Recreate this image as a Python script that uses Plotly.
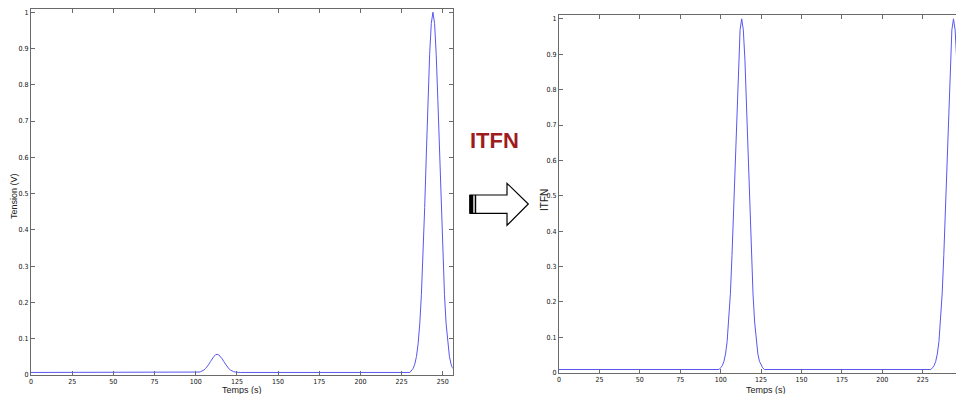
import plotly.graph_objects as go

# ---------------- data ----------------
time_left = [0, 99,
             100, 101, 102, 103, 104, 105, 106, 107, 108, 109, 110, 111, 112, 113,
             114, 115, 116, 117, 118, 119, 120, 121, 122, 123, 124, 125, 126,
             127, 230,
             231, 232, 233, 234, 235, 236, 237, 238, 239, 240, 241, 242, 243, 244,
             245, 246, 247, 248, 249, 250, 251, 252, 253, 254, 255, 256]
tension_left = [0.007, 0.007,
                0.0072, 0.0076, 0.0081, 0.0092, 0.0110, 0.0138, 0.0178, 0.0232, 0.0299, 0.0373, 0.0448, 0.0511, 0.0555, 0.0570,
                0.0555, 0.0511, 0.0448, 0.0373, 0.0299, 0.0232, 0.0178, 0.0138, 0.0110, 0.0092, 0.0081, 0.0076, 0.0072,
                0.007, 0.007,
                0.012, 0.018, 0.030, 0.051, 0.086, 0.141, 0.222, 0.329, 0.462, 0.609, 0.757, 0.883, 0.969, 1.000,
                0.969, 0.883, 0.757, 0.609, 0.462, 0.329, 0.222, 0.141, 0.086, 0.051, 0.030, 0.018]

time_right = [0, 99,
              100, 101, 102, 103, 104, 105, 106, 107, 108, 109, 110, 111, 112, 113,
              114, 115, 116, 117, 118, 119, 120, 121, 122, 123, 124, 125, 126,
              127, 230,
              231, 232, 233, 234, 235, 236, 237, 238, 239, 240, 241, 242, 243, 244,
              245, 246, 247, 248, 249, 250, 251, 252, 253, 254, 255, 256]
itfn_right = [0.009, 0.009,
              0.014, 0.020, 0.032, 0.053, 0.088, 0.143, 0.223, 0.331, 0.463, 0.610, 0.757, 0.884, 0.969, 1.000,
              0.969, 0.884, 0.757, 0.610, 0.463, 0.331, 0.223, 0.143, 0.088, 0.053, 0.032, 0.020, 0.014,
              0.009, 0.009,
              0.014, 0.020, 0.032, 0.053, 0.088, 0.143, 0.223, 0.331, 0.463, 0.610, 0.757, 0.884, 0.969, 1.000,
              0.969, 0.884, 0.757, 0.610, 0.463, 0.331, 0.223, 0.143, 0.088, 0.053, 0.032, 0.020]

x_ticks = [0, 25, 50, 75, 100, 125, 150, 175, 200, 225, 250]
y_ticks = [0, 0.1, 0.2, 0.3, 0.4, 0.5, 0.6, 0.7, 0.8, 0.9, 1]
y_tick_text = ["0", "0.1", "0.2", "0.3", "0.4", "0.5", "0.6", "0.7", "0.8", "0.9", "1"]

# ---------------- layout helpers ----------------
# The page body has an 8px margin, so the figure is drawn 8px in from the
# window corner; positions below are given in window pixels and converted.
OFF = 8
W, H = 964 - OFF, 394 - OFF


def px(x):
    return (x - OFF) / W


def py(y):
    return 1 - (y - OFF) / H


LINE_COLOR = "#5757f2"
AXIS_COLOR = "#6a6a6a"
TICK_FONT = dict(family="Liberation Sans Narrow, Arial Narrow, DejaVu Sans Condensed, Arial, sans-serif",
                 size=7, color="#111111")

fig = go.Figure()
fig.add_trace(go.Scatter(x=time_left, y=tension_left, mode="lines",
                         line=dict(color=LINE_COLOR, width=1), xaxis="x", yaxis="y",
                         showlegend=False, hoverinfo="skip"))
fig.add_trace(go.Scatter(x=time_right, y=itfn_right, mode="lines",
                         line=dict(color=LINE_COLOR, width=1), xaxis="x2", yaxis="y2",
                         showlegend=False, hoverinfo="skip"))

common_x = dict(tickvals=x_ticks, ticktext=[str(v) for v in x_ticks], ticks="inside", ticklen=4,
                tickcolor=AXIS_COLOR, showline=True, linecolor=AXIS_COLOR, linewidth=1,
                showgrid=False, zeroline=False, tickfont=TICK_FONT, fixedrange=True,
                automargin=False, ticklabeloverflow="allow")
common_y = dict(tickvals=y_ticks, ticktext=y_tick_text, ticks="inside", ticklen=4,
                tickcolor=AXIS_COLOR, showline=True, linecolor=AXIS_COLOR, linewidth=1,
                showgrid=False, zeroline=False, tickfont=TICK_FONT, fixedrange=True,
                automargin=False)

fig.update_layout(
    width=W, height=H,
    margin=dict(l=0, r=0, t=0, b=0, autoexpand=False),
    paper_bgcolor="white", plot_bgcolor="white",
    xaxis=dict(domain=[px(31), px(452.7)], range=[0, 256], anchor="y", mirror="ticks", **common_x),
    yaxis=dict(domain=[py(375), py(9.3)], range=[0, 1.008], anchor="x", mirror="ticks", **common_y),
    xaxis2=dict(domain=[px(559), 1.0], range=[0, 250.5], anchor="y2", mirror="ticks", **common_x),
    yaxis2=dict(domain=[py(372.7), py(15.3)], range=[0, 1.01], anchor="x2", mirror=False, **common_y),
)

TITLE_FONT = dict(family="Arial, Liberation Sans, sans-serif", size=9, color="#222222")
annotations = [
    dict(text="Tension (V)", x=px(14), y=py(196), textangle=-90, font=TITLE_FONT),
    dict(text="Temps (s)", x=px(242), y=py(389.5), font=TITLE_FONT),
    dict(text="Temps (s)", x=px(766), y=py(389.5), font=TITLE_FONT),
    dict(text="ITFN", x=px(544), y=py(200), textangle=-90,
         font=dict(family="Arial, Liberation Sans, sans-serif", size=10, color="#222222")),
    dict(text="<b>ITFN</b>", x=px(494.5), y=py(140),
         font=dict(family="Arial, Liberation Sans, sans-serif", size=22, color="#9e1b1e")),
]
for a in annotations:
    a.update(xref="paper", yref="paper", showarrow=False, xanchor="center", yanchor="middle")
fig.update_layout(annotations=annotations)

# outlined arrow pointing right
pts = [(470, 195), (507, 195), (507, 183.3), (528.3, 204), (507, 225.3), (507, 213.3), (470, 213.3)]
path = "M " + " L ".join(f"{px(x):.5f},{py(y):.5f}" for x, y in pts) + " Z"
shapes = [
    dict(type="path", path=path, xref="paper", yref="paper",
         fillcolor="white", line=dict(color="black", width=1.2)),
    dict(type="rect", x0=px(469.3), x1=px(473.3), y0=py(213.3), y1=py(195), xref="paper", yref="paper",
         fillcolor="black", line=dict(width=0)),
    dict(type="rect", x0=px(474.7), x1=px(476.2), y0=py(213.3), y1=py(195), xref="paper", yref="paper",
         fillcolor="black", line=dict(width=0)),
]
fig.update_layout(shapes=shapes)

fig.write_html("out.html")
